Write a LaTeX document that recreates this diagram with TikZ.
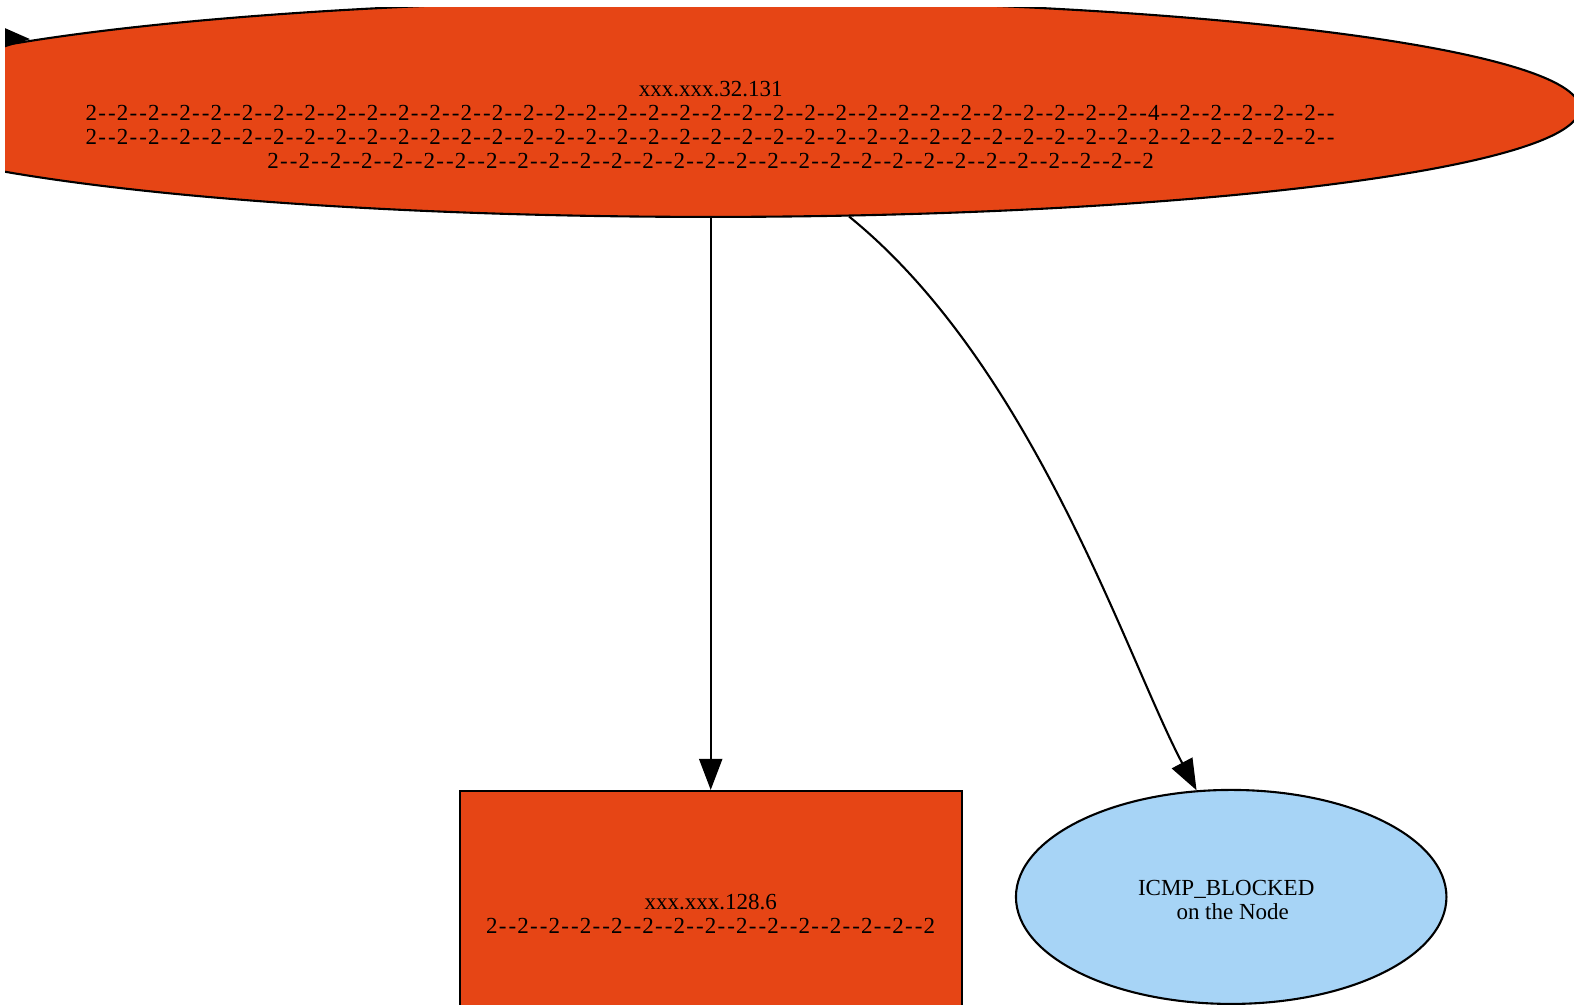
\documentclass[tikz,border=0pt]{standalone}
\usepackage{fontspec}
\setmainfont{Liberation Serif}
\usetikzlibrary{arrows.meta,shapes.geometric}
\definecolor{hostfill}{RGB}{230,69,21}
\definecolor{blockfill}{RGB}{167,212,246}
% one "2--" group of the hop strings, with widened hyphens
\newcommand\dsh{\makebox[9.875pt]{-}\makebox[9.875pt]{-}}
\newcommand\tk{2\dsh}
\ExplSyntaxOn
\cs_new:Npn \reptk #1 { \prg_replicate:nn {#1} { \tk } }
\ExplSyntaxOff
\tikzset{
  lbl/.style={align=center, font=\fontsize{23}{24}\selectfont, inner sep=0pt},
  hostell/.style={ellipse, draw, fill=hostfill, line width=2.1pt,
    minimum width=1738pt, minimum height=217pt, inner sep=0pt},
  hostbox/.style={rectangle, draw, fill=hostfill, line width=2.1pt,
    minimum width=502pt, minimum height=245pt, lbl},
  blockell/.style={ellipse, draw, fill=blockfill, line width=2.1pt,
    minimum width=430.5pt, minimum height=214pt, lbl},
  edge/.style={draw, line width=2.1pt, -{Triangle[length=31pt,width=23pt]}}
}
\begin{document}
\begin{tikzpicture}[x=1.00383pt, y=-1.00383pt]
\useasboundingbox (0,0) rectangle (1568,1000.2);
\begin{scope}
\clip (5,7) rectangle (1568,1000.2);
% hosts and the blocked-ICMP marker
\node[hostell] (host) at (708,108) {};
\node[lbl] (hostlabel) at (708,124)
  {xxx.xxx.32.131\\ \reptk{34}4\dsh\reptk{5}\\ \reptk{40}\\ \reptk{28}2};
\node[hostbox] (gw) at (708,910) {xxx.xxx.128.6\\ \reptk{14}2};
\node[blockell] (icmp) at (1226.5,893.5)
  {\rule{0pt}{20.5pt}ICMP\_BLOCKED\hspace*{10pt}\\ \hspace*{3pt}on the Node};
% connectors
\coordinate (offleft) at (-90,33);
\coordinate (hostin) at ([shift={(-678,-69)}]host.center);
\draw[edge] (offleft) -- (hostin);
\draw[edge] (host) -- (gw);
\draw[edge] (host.-38.5) .. controls (1030,365) and (1122,655) .. (icmp.108);
\end{scope}
\end{tikzpicture}
\end{document}
